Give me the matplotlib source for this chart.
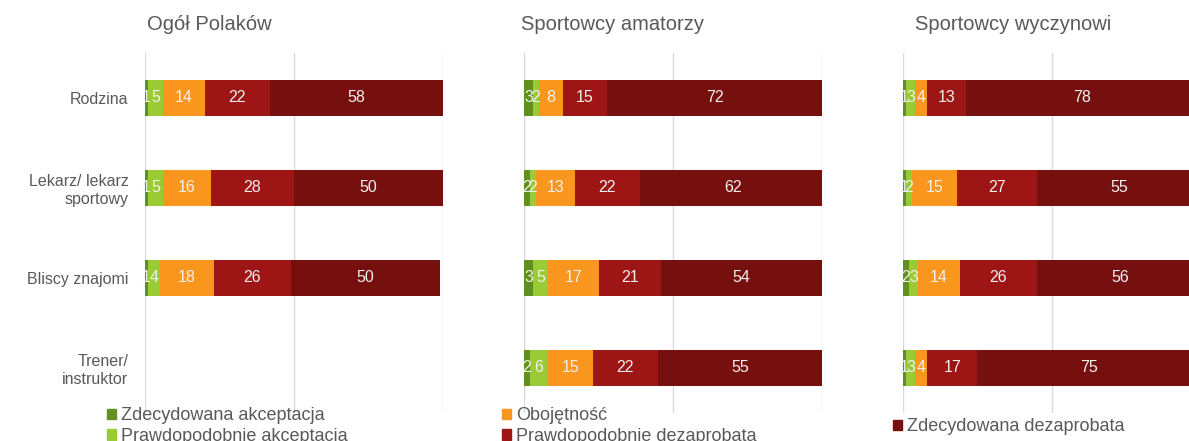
import numpy as np
import matplotlib
matplotlib.use("Agg")
import matplotlib.pyplot as plt
from matplotlib.patches import Patch

plt.rcParams.update({"font.family": ["Liberation Sans", "DejaVu Sans"]})

rows = ["Rodzina", "Lekarz/ lekarz\nsportowy", "Bliscy znajomi", "Trener/\ninstruktor"]
series = ["Zdecydowana akceptacja", "Prawdopodobnie akceptacja", "Obojętność",
          "Prawdopodobnie dezaprobata", "Zdecydowana dezaprobata"]
colors = ["#5f9020", "#9acb35", "#f9961e", "#9e1515", "#76100f"]
panels = ["Ogół Polaków", "Sportowcy amatorzy", "Sportowcy wyczynowi"]

# rows x series; None = no bar
ogol = [[1, 5, 14, 22, 58], [1, 5, 16, 28, 50], [1, 4, 18, 26, 50], None]
amatorzy = [[3, 2, 8, 15, 72], [2, 2, 13, 22, 62], [3, 5, 17, 21, 54], [2, 6, 15, 22, 55]]
wyczynowi = [[1, 3, 4, 13, 78], [1, 2, 15, 27, 55], [2, 3, 14, 26, 56], [1, 3, 4, 17, 75]]
data = [ogol, amatorzy, wyczynowi]

W, H = 1189, 441
fig = plt.figure(figsize=(W / 100, H / 100), dpi=100)
lefts = [145, 524, 903]
title_x = [147, 521, 915]
grey = "#595959"
for p, (x0, vals) in enumerate(zip(lefts, data)):
    ax = fig.add_axes([x0 / W, 1 - 413 / H, 298 / W, 360 / H])
    for i, row in enumerate(vals):
        if row is None:
            continue
        left = 0
        for j, v in enumerate(row):
            ax.barh(i, v, left=left, height=0.4, color=colors[j], zorder=2)
            ax.text(left + v / 2, i, str(v), ha="center", va="center",
                    color="#f0f0f0", fontsize=11.5, zorder=3)
            left += v
    ax.set_xlim(0, 100)
    ax.set_ylim(3.5, -0.5)
    ax.set_xticks([0, 50, 100])
    ax.grid(axis="x", color="#d9d9d9", lw=1, zorder=0)
    ax.tick_params(length=0, labelbottom=False)
    for s in ax.spines.values():
        s.set_visible(False)
    ax.set_yticks(range(len(rows)))
    if p == 0:
        ax.set_yticklabels(rows, fontsize=11.5, color=grey, ha="right")
        ax.tick_params(axis="y", pad=12)
    else:
        ax.set_yticklabels([])
    ax.patch.set_alpha(0)
    fig.text(title_x[p] / W, 1 - 24 / H, panels[p], fontsize=14.5, color=grey,
             ha="left", va="center")

h = [Patch(color=c) for c in colors]
kw = dict(frameon=False, fontsize=13, handlelength=0.5, handleheight=0.5,
          handletextpad=0.25, labelspacing=0.2, labelcolor=grey, borderaxespad=0)
fig.legend(h[:2], series[:2], loc="upper left", bbox_to_anchor=(100 / W, 1 - 400 / H), **kw)
fig.legend([h[2], h[3]], [series[2], series[3]], loc="upper left",
           bbox_to_anchor=(495 / W, 1 - 400 / H), **kw)
fig.legend([h[4]], [series[4]], loc="upper left", bbox_to_anchor=(886 / W, 1 - 411 / H), **kw)

fig.savefig("out.png", dpi=100)
